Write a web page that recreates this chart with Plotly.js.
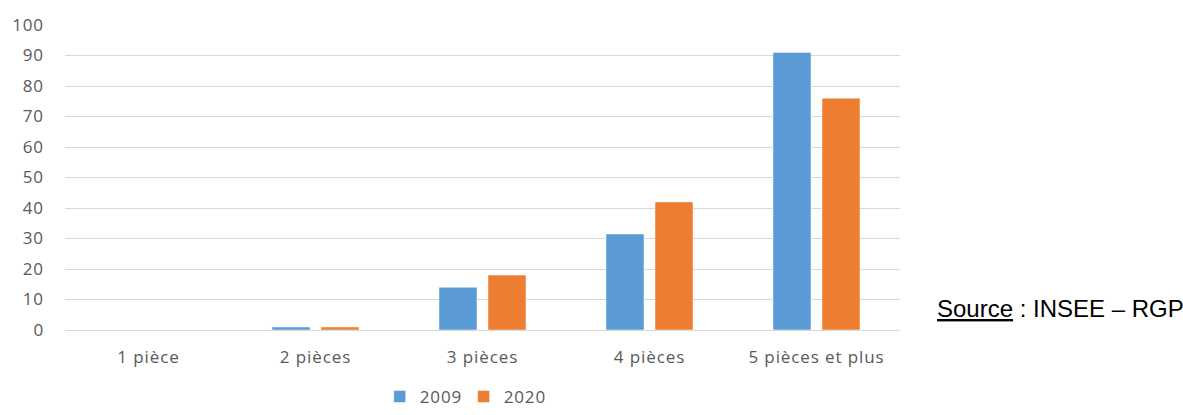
<!DOCTYPE html>
<html>
<head>
<meta charset="utf-8">
<script src="https://cdn.plot.ly/plotly-3.0.1.min.js"></script>
<style>
  html, body { margin: 0; padding: 0; background: #ffffff; }
  #chart { width: 1183px; height: 415px; }
  /* slightly looser tracking for axis and legend labels */
  #chart .xtick text, #chart .ytick text, #chart .legendtext { letter-spacing: 0.9px; }
</style>
</head>
<body>
<div id="chart"></div>
<script>
// Nombre de logements par nombre de pièces
const categories = ["1 pièce", "2 pièces", "3 pièces", "4 pièces", "5 pièces et plus"];
const values2009 = [0, 1, 14, 31.5, 91];
const values2020 = [0, 1, 18, 42, 76];
const yTicks = [0, 10, 20, 30, 40, 50, 60, 70, 80, 90, 100];

const tickFont = { family: "'Open Sans', Lato, sans-serif", size: 17, color: "#595959" };

const traces = [
  {
    type: "bar", name: "2009", x: categories, y: values2009,
    marker: { color: "#5B9BD5", line: { color: "#ffffff", width: 0.5 } }
  },
  {
    type: "bar", name: "2020", x: categories, y: values2020,
    marker: { color: "#ED7D31", line: { color: "#ffffff", width: 0.5 } }
  }
];

const layout = {
  width: 1183, height: 415,
  margin: { l: 65, r: 283, t: 25, b: 85, autoexpand: false },
  paper_bgcolor: "#ffffff", plot_bgcolor: "#ffffff",
  barmode: "group", bargap: 0.413, bargroupgap: 0.224,
  showlegend: true,
  legend: {
    orientation: "h", xref: "container", yref: "container",
    x: 0.392, xanchor: "center", y: 0.0, yanchor: "bottom",
    font: tickFont, itemwidth: 30, tracegroupgap: 0
  },
  xaxis: {
    showgrid: false, zeroline: false, showline: false, ticks: "",
    tickfont: tickFont, ticklabelstandoff: 15, fixedrange: true
  },
  yaxis: {
    range: [0, 100], tickvals: yTicks, ticktext: yTicks.map(String),
    showgrid: true, gridcolor: "#D9D9D9", gridwidth: 1,
    zeroline: true, zerolinecolor: "#D9D9D9", zerolinewidth: 1,
    showline: false, ticks: "", tickfont: tickFont, ticklabelstandoff: 20,
    fixedrange: true
  },
  annotations: [{
    xref: "paper", yref: "paper", x: 1.042, y: 0.072,
    xanchor: "left", yanchor: "middle", showarrow: false,
    text: "<u>Source</u> : INSEE – RGP",
    font: { family: "'Liberation Sans', Arial, sans-serif", size: 24, color: "#000000" }
  }]
};

Plotly.newPlot("chart", traces, layout, { displayModeBar: false, staticPlot: true });
</script>
</body>
</html>
